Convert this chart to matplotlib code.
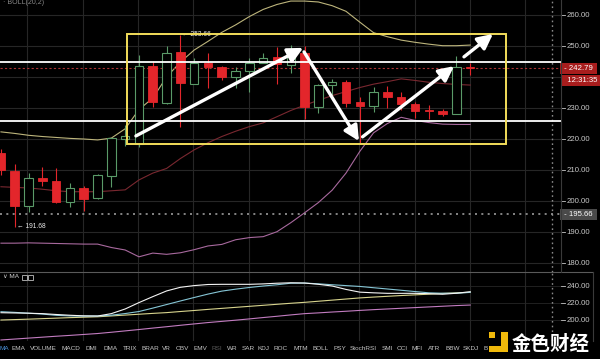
import matplotlib.pyplot as plt
from matplotlib.patches import Rectangle
from matplotlib.lines import Line2D
import numpy as np

# 日线 K 线 (open, high, low, close)
opens = [215.5, 209.8, 198.4, 207.3, 206.5, 199.8, 204.1, 200.9, 208.2, 220.0,
         218.4, 243.5, 231.5, 248.0, 237.7, 244.4, 243.3, 240.1, 241.9, 244.5,
         246.4, 243.9, 247.8, 230.2, 237.4, 238.4, 231.9, 230.6, 235.3, 233.6,
         231.3, 229.4, 229.1, 228.1, 243.0]
highs = [216.8, 211.9, 209.1, 211.1, 210.5, 205.7, 204.9, 208.6, 220.3, 224.5,
         247.1, 245.3, 250.0, 253.66, 246.1, 247.8, 243.5, 243.3, 246.1, 247.7,
         249.8, 250.3, 250.1, 237.6, 239.4, 239.0, 233.5, 236.9, 237.1, 235.1,
         231.9, 231.0, 229.6, 246.8, 244.4]
lows = [208.5, 191.68, 196.4, 204.8, 199.4, 198.0, 196.9, 200.7, 204.6, 217.7,
        217.4, 230.4, 231.4, 224.0, 237.6, 236.4, 239.0, 236.4, 235.3, 244.4,
        237.7, 241.2, 226.4, 228.5, 234.2, 230.2, 218.7, 228.8, 230.0, 229.4,
        226.7, 226.4, 227.4, 228.0, 240.6]
closes = [210.0, 198.5, 207.3, 206.5, 199.6, 204.1, 200.7, 208.4, 220.2, 221.0,
          243.6, 231.9, 247.9, 238.0, 244.4, 243.3, 240.1, 241.9, 244.5, 246.2,
          244.2, 246.9, 230.4, 237.4, 238.5, 231.7, 230.6, 235.3, 233.6, 231.3,
          229.0, 229.0, 228.1, 243.3, 242.79]

# BOLL(20,2)
boll_up = [222.3, 221.8, 221.2, 220.8, 220.5, 220.2, 220.0, 219.7, 220.3, 223.3,
           229.5, 233.2, 240.0, 244.8, 248.7, 251.5, 254.4, 256.8, 259.5, 261.8,
           263.4, 264.5, 264.5, 264.2, 263.0, 261.2, 257.7, 254.3, 253.0, 251.9,
           251.2, 250.6, 250.1, 250.1, 250.3]
boll_mid = [204.6, 204.4, 204.2, 203.8, 203.3, 203.0, 203.0, 203.0, 203.3, 203.6,
            206.8, 209.0, 210.5, 213.7, 216.5, 218.8, 220.8, 222.5, 224.0, 225.2,
            227.2, 229.2, 230.9, 232.5, 234.0, 235.3, 236.6, 237.7, 238.5, 239.4,
            238.9, 238.3, 237.9, 237.6, 237.4]
boll_low = [186.4, 186.4, 186.5, 186.4, 186.3, 186.2, 186.1, 186.1, 185.0, 184.2,
            182.0, 183.2, 182.8, 183.3, 184.3, 185.5, 186.0, 187.5, 188.2, 188.5,
            190.1, 193.0, 196.2, 199.5, 203.5, 209.0, 216.0, 222.0, 225.0, 227.0,
            226.0, 225.3, 224.8, 224.7, 224.7]

# 副图 MA
ma1 = [208.6, 208.3, 208.0, 207.5, 206.5, 205.6, 204.9, 204.7, 207.5, 213.0,
       220.5, 227.5, 234.2, 238.5, 240.5, 241.8, 242.0, 242.0, 242.0, 242.5,
       243.3, 243.8, 243.5, 242.0, 240.0, 236.0, 232.8, 232.0, 231.4, 231.4,
       231.4, 231.0, 230.3, 231.5, 233.3]
ma2 = [209.8, 209.0, 208.0, 207.0, 205.5, 204.8, 204.6, 204.7, 205.7, 207.6,
       210.0, 214.0, 218.2, 222.4, 226.5, 230.5, 234.0, 236.3, 238.3, 240.0,
       241.5, 243.3, 243.5, 242.6, 241.5, 240.5, 239.5, 238.0, 236.5, 235.0,
       233.5, 232.0, 231.5, 231.5, 232.5]
ma3 = [200.0, 200.5, 201.0, 201.6, 202.2, 202.8, 203.3, 203.8, 204.8, 205.8,
       206.8, 207.8, 208.7, 210.0, 211.2, 212.5, 213.7, 214.9, 216.1, 217.3,
       218.5, 219.7, 220.8, 222.1, 223.4, 224.7, 226.0, 227.0, 227.9, 228.8,
       229.6, 230.4, 231.3, 232.0, 232.6]
ma4 = [176.5, 177.6, 178.7, 179.8, 180.9, 181.9, 183.0, 184.1, 185.6, 187.2,
       188.8, 190.5, 192.1, 193.8, 195.4, 197.0, 198.4, 199.8, 201.3, 202.9,
       204.4, 206.0, 207.5, 208.4, 209.4, 210.3, 211.3, 212.2, 213.0, 213.8,
       214.6, 215.4, 216.2, 217.0, 217.6]

price_ticks = [260, 250, 230, 220, 210, 200, 190, 180]
sub_ticks = [240, 220, 200]
last_price = 242.79
countdown = '12:31:35'
mark_line = 195.66
white_lines = [244.7, 225.8]
box = (9.11, 218.4, 36.6, 253.9)  # x0, y0, x1, y1
arrows = [((9.78, 221.0), (21.9, 249.4)),
          ((21.96, 248.1), (25.94, 219.35)),
          ((26.2, 220.7), (32.83, 243.5)),
          ((33.55, 246.5), (35.65, 253.9))]
indicators = ['MA', 'EMA', 'VOLUME', 'MACD', 'DMI', 'DMA', 'TRIX', 'BRAR', 'VR',
              'OBV', 'EMV', 'RSI', 'WR', 'SAR', 'KDJ', 'ROC', 'MTM', 'BOLL', 'PSY',
              'StochRSI', 'SMI', 'CCI', 'MFI', 'ATR', 'BBW', 'SKDJ', 'B']
ind_x = [0, 12, 30, 62, 85, 103, 123, 141, 162, 176, 193, 212, 227, 242, 258,
         273, 293, 313, 333, 350, 382, 397, 412, 428, 445, 463, 484]

W, H = 600, 359
BG = '#000000'
GRID = '#262626'
UP = '#5a9a68'
DOWN = '#e3262b'
LBL = '#c8c8c8'
FONT = ['Liberation Sans', 'DejaVu Sans']

fig = plt.figure(figsize=(6, 3.59), dpi=100, facecolor=BG)

def fx(px):
    return px / W

def fy(py):
    return 1 - py / H

ax = fig.add_axes([0, fy(272), fx(561), 272 / H])
ax2 = fig.add_axes([0, fy(341), fx(561), 69 / H])
xlim = (-0.07, 40.58)
for a in (ax, ax2):
    a.set_facecolor(BG)
    a.set_xlim(*xlim)
    for s in a.spines.values():
        s.set_visible(False)
    a.set_xticks([])
    a.set_yticks([])
    for gx in np.arange(1.9, 40.5, 4.01):
        a.axvline(gx, color=GRID, lw=0.8, zorder=0)
    a.axvline(39.93, color='#8a8a8a', lw=1.0, ls=(0, (1.2, 2.2)), zorder=1)

ax.set_ylim(177.1, 264.84)
ax2.set_ylim(175.3, 256.5)

for v in range(180, 265, 10):
    ax.axhline(v, color=GRID, lw=0.8, zorder=0)

idx = np.arange(len(opens))

# BOLL 线
ax.plot(idx, boll_up, color='#bdb57c', lw=0.8, zorder=2)
ax.plot(idx, boll_mid, color='#7a2830', lw=0.8, zorder=2)
ax.plot(idx, boll_low, color='#a8699e', lw=0.8, zorder=2)

# 蜡烛
bw = 0.62
for i in idx:
    o, h, l, c = opens[i], highs[i], lows[i], closes[i]
    up = c >= o
    col = UP if up else DOWN
    ax.vlines(i, l, h, color=col, lw=0.8, zorder=3)
    bot = min(o, c)
    hgt = max(abs(c - o), 0.3)
    if up:
        ax.add_patch(Rectangle((i - bw / 2, bot), bw, hgt, facecolor=BG,
                               edgecolor=col, lw=0.8, zorder=4))
    else:
        ax.add_patch(Rectangle((i - bw / 2, bot), bw, hgt, facecolor=col,
                               edgecolor=col, lw=0.6, zorder=4))

# 水平线
for v in white_lines:
    ax.axhline(v, color='white', lw=1.3, zorder=5)
ax.axhline(last_price, color='#a83232', lw=0.8, ls=(0, (2, 2)), zorder=2)
ax.axhline(mark_line, color='#9a9a9a', lw=1.2, ls=(0, (1.2, 2.6)), zorder=2)

# 黄框
ax.add_patch(Rectangle((box[0], box[1]), box[2] - box[0], box[3] - box[1],
                       fill=False, edgecolor='#f2dc5a', lw=1.4, zorder=6))

# 箭头
for (x0, y0), (x1, y1) in arrows:
    ax.annotate('', xy=(x1, y1), xytext=(x0, y0),
                arrowprops=dict(arrowstyle='-|>,head_length=0.9,head_width=0.45',
                                color='white', lw=2.4, shrinkA=0, shrinkB=0),
                zorder=7)

# 高低点标注
hi_i = int(np.argmax(highs))
lo_i = int(np.argmin(lows))
ax.text(hi_i + 0.15, highs[hi_i] - 0.1, '← %.2f' % highs[hi_i], color='#e8e8e8',
        fontsize=4.8, family=FONT, va='center', ha='left', zorder=5)
ax.text(lo_i + 0.15, lows[lo_i], '← %.2f' % lows[lo_i], color='#e8e8e8',
        fontsize=4.8, family=FONT, va='center', ha='left', zorder=5)

# 右侧价格轴
ytr = ax.get_yaxis_transform()
for v in price_ticks:
    ax.plot([1.0, 1.007], [v, v], color=LBL, lw=0.6, transform=ytr, clip_on=False)
    ax.text(1.01, v, '%.2f' % v, color=LBL, fontsize=5.6, family=FONT,
            va='center', ha='left', transform=ytr, clip_on=False)

def tag(axis, y, text, face):
    axis.text(1.002, y, ' ' + text + ' ', color='white', fontsize=5.6, family=FONT,
              va='center', ha='left', transform=axis.get_yaxis_transform(),
              clip_on=False, zorder=10,
              bbox=dict(boxstyle='square,pad=0.25', facecolor=face, edgecolor='none'))

tag(ax, last_price, '- ' + '%.2f' % last_price, '#a81d1d')
ax.text(1.004, last_price - 3.9, '  ' + countdown + ' ', color='white', fontsize=5.6,
        family=FONT, va='center', ha='left', transform=ytr, clip_on=False, zorder=10,
        bbox=dict(boxstyle='square,pad=0.25', facecolor='#a81d1d', edgecolor='none'))
tag(ax, mark_line, '- ' + '%.2f' % mark_line, '#4a4a4a')

# 副图
for v in sub_ticks:
    ax2.axhline(v, color=GRID, lw=0.6, zorder=0)
ax2.plot(idx, ma4, color='#c27cc0', lw=0.8)
ax2.plot(idx, ma3, color='#d8d48e', lw=0.8)
ax2.plot(idx, ma2, color='#86c6d6', lw=0.8)
ax2.plot(idx, ma1, color='#f4f4f4', lw=0.8)
ytr2 = ax2.get_yaxis_transform()
for v in sub_ticks:
    ax2.plot([1.0, 1.007], [v, v], color=LBL, lw=0.6, transform=ytr2, clip_on=False)
    ax2.text(1.01, v, '%.2f' % v, color=LBL, fontsize=5.6, family=FONT,
             va='center', ha='left', transform=ytr2, clip_on=False)

# 分隔线 / 边框
fig.add_artist(Line2D([0, fx(593)], [fy(272), fy(272)], color='#5a5a5a', lw=0.8))
fig.add_artist(Line2D([fx(561), fx(561)], [fy(0), fy(272)], color='#3a3a3a', lw=0.8))
fig.add_artist(Line2D([fx(593), fx(593)], [fy(272), fy(341)], color='#3a3a3a', lw=0.8))

# 标题
fig.text(fx(3), fy(2), '· BOLL(20,2)', color='#8a8a8a', fontsize=5, family=FONT,
         va='center', ha='left')
fig.text(fx(3), fy(277), '∨ MA', color='#cfcfcf', fontsize=4.6, family=FONT,
         va='center', ha='left')
for k, px in enumerate([22, 28]):
    fig.add_artist(Rectangle((fx(px), fy(280)), fx(5), 5 / H, fill=False,
                             edgecolor='#bdbdbd', lw=0.6))

# 指标名称
for name, px in zip(indicators, ind_x):
    col = LBL
    if name == 'MA':
        col = '#4a8fd8'
    elif name == 'RSI':
        col = '#5a5a5a'
    fig.text(fx(px), fy(349), name, color=col, fontsize=4.6, family=FONT,
             va='center', ha='left')

# 水印 logo
gold = '#f0b90b'
fig.add_artist(Rectangle((fx(489), fy(338)), fx(6), 6 / H, color=gold, lw=0))
fig.add_artist(Rectangle((fx(501), fy(352)), fx(7), 20 / H, color=gold, lw=0))
fig.add_artist(Rectangle((fx(489), fy(352)), fx(19), 6 / H, color=gold, lw=0))
fig.text(fx(512), fy(344), '金色财经', color='white', fontsize=14,
         family=['Noto Sans CJK SC', 'DejaVu Sans'], fontweight='bold',
         va='center', ha='left')

fig.savefig('out.png', dpi=100, facecolor=BG)
